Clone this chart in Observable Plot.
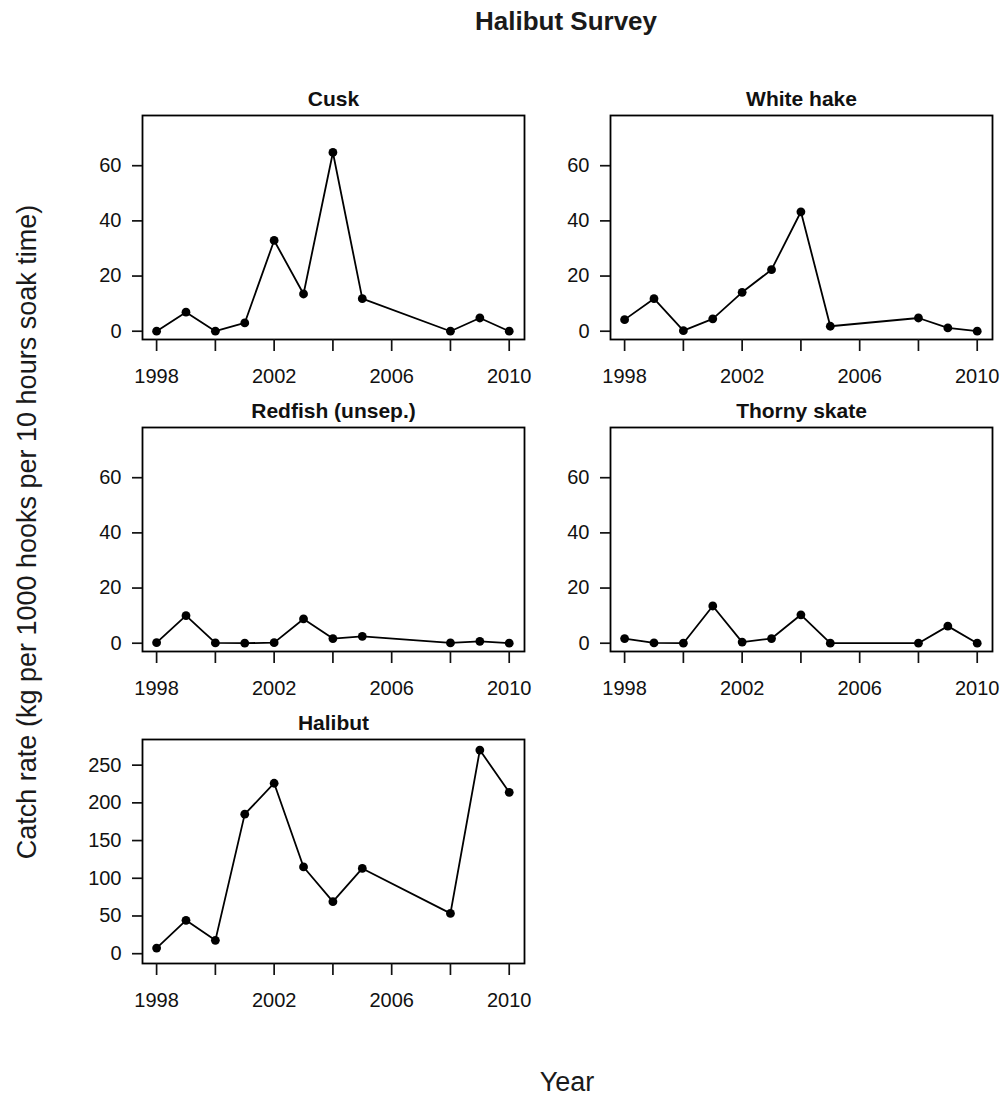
<!DOCTYPE html>
<html>
<head>
<meta charset="utf-8">
<script src="https://cdn.jsdelivr.net/npm/d3@7"></script>
<script src="https://cdn.jsdelivr.net/npm/@observablehq/plot@0.6"></script>
<style>
  html, body { margin: 0; padding: 0; background: white; overflow: hidden; }
  #page { position: relative; width: 1004px; height: 1097px; background: white;
          font-family: "Liberation Sans", Arial, sans-serif; color: #1a1a1a; }
  .abs { position: absolute; }
  .panel svg { background: transparent; overflow: visible; }
  .txt { position: absolute; white-space: nowrap; transform: translate(-50%, -50%); }
</style>
</head>
<body>
<div id="page"></div>
<script>
// ---- data ----
const years = [1998, 1999, 2000, 2001, 2002, 2003, 2004, 2005, 2008, 2009, 2010];
const cusk      = [0, 6.9, 0, 3.0, 32.9, 13.5, 64.8, 11.8, 0, 4.8, 0];
const whiteHake = [4.2, 11.8, 0.2, 4.5, 14.1, 22.3, 43.3, 1.8, 4.8, 1.2, 0];
const redfish   = [0.2, 10.0, 0.1, 0, 0.2, 8.8, 1.7, 2.5, 0.1, 0.7, 0];
const thornySkate = [1.7, 0.1, 0, 13.5, 0.4, 1.7, 10.3, 0, 0, 6.2, 0];
const halibut   = [7.5, 44.2, 17.7, 185, 226, 115, 69, 113, 53.4, 270, 214];

const panelTitles = ["Cusk", "White hake", "Redfish (unsep.)", "Thorny skate", "Halibut"];
const xTicks = [1998, 2000, 2002, 2004, 2006, 2008, 2010];
const xTickLabels = [1998, 2002, 2006, 2010];
const smallYTicks = [0, 20, 40, 60];
const halibutYTicks = [0, 50, 100, 150, 200, 250];

const chartTitle = "Halibut Survey";
const xTitle = "Year";
const yTitle = "Catch rate (kg per 1000 hooks per 10 hours soak time)";

// ---- layout ----
const page = document.getElementById("page");
const FONT = "'Liberation Sans', Arial, sans-serif";
const frameW = 382, frameH = 224;
const cols = [{left: 0, ml: 142, mr: 21}, {left: 545, ml: 65, mr: 12}];
const rowTops = [75, 387, 699];
const mt = 40, mb = 48;

function makePanel(title, values, yDomain, yTicks, col, row) {
  const data = years.map((year, i) => ({year, value: values[i]}));
  const c = cols[col];
  const chart = Plot.plot({
    width: c.ml + frameW + c.mr,
    height: mt + frameH + mb,
    marginLeft: c.ml, marginRight: c.mr, marginTop: mt, marginBottom: mb,
    style: {fontFamily: FONT, background: "transparent", color: "#111", overflow: "visible"},
    x: {domain: [1997.52, 2010.52], label: null},
    y: {domain: yDomain, label: null},
    marks: [
      Plot.frame({stroke: "black", strokeWidth: 1.8}),
      Plot.axisX(xTicks, {
        tickSize: 12, tickPadding: 17, fontSize: 20, strokeWidth: 1.7, label: null,
        tickFormat: d => xTickLabels.includes(d) ? String(d) : ""
      }),
      Plot.axisY(yTicks, {
        tickSize: 10, tickPadding: 11, fontSize: 20, strokeWidth: 1.7, label: null,
        tickFormat: d => String(d)
      }),
      Plot.line(data, {x: "year", y: "value", stroke: "black", strokeWidth: 1.8}),
      Plot.dot(data, {x: "year", y: "value", r: 4.4, fill: "black", stroke: "none"}),
      Plot.text([title], {text: d => d, frameAnchor: "top", lineAnchor: "bottom", dy: -10,
        fontSize: 21, fontWeight: "bold", fill: "#111"})
    ]
  });
  const wrap = document.createElement("div");
  wrap.className = "abs panel";
  wrap.style.left = c.left + "px";
  wrap.style.top = rowTops[row] + "px";
  wrap.appendChild(chart);
  page.appendChild(wrap);
}

const smallDomain = [-3, 78.2];
makePanel(panelTitles[0], cusk, smallDomain, smallYTicks, 0, 0);
makePanel(panelTitles[1], whiteHake, smallDomain, smallYTicks, 1, 0);
makePanel(panelTitles[2], redfish, smallDomain, smallYTicks, 0, 1);
makePanel(panelTitles[3], thornySkate, smallDomain, smallYTicks, 1, 1);
makePanel(panelTitles[4], halibut, [-13, 284], halibutYTicks, 0, 2);

function addText(str, x, y, size, weight, rotate) {
  const d = document.createElement("div");
  d.className = "txt";
  d.textContent = str;
  d.style.left = x + "px";
  d.style.top = y + "px";
  d.style.fontSize = size + "px";
  d.style.fontWeight = weight;
  d.style.lineHeight = "1";
  if (rotate) d.style.transform = "translate(-50%, -50%) rotate(-90deg)";
  page.appendChild(d);
}
addText(chartTitle, 566, 21, 26, "bold", false);
addText(xTitle, 567, 1082, 27, "normal", false);
addText(yTitle, 27, 532, 27, "normal", true);
</script>
</body>
</html>
